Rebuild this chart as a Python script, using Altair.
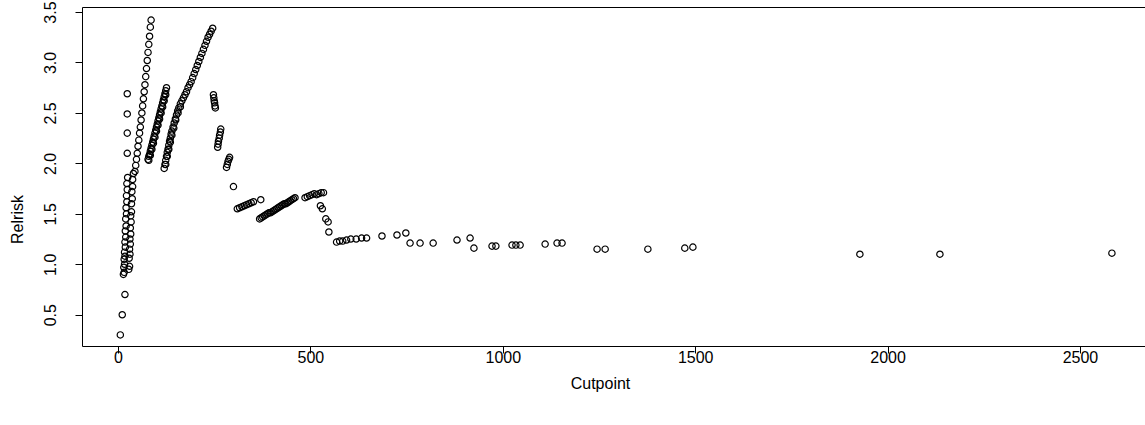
import altair as alt
import pandas as pd

# --- data (cutpoint, relative risk) ---
cut_a = [6, 11, 18]
rr_a = [0.30, 0.50, 0.70]

cut_b = [14, 16, 15, 17, 28, 30, 16, 18, 29, 31, 17, 19, 30, 32, 18, 20, 31, 33, 19, 21,
         32, 34, 20, 22, 33, 35, 21, 23, 35, 37, 22, 24, 36, 38, 23, 25, 38, 40,
         24, 24, 24, 24]
rr_b = [0.90, 0.92, 0.97, 1.00, 0.95, 0.98, 1.05, 1.08, 1.06, 1.10, 1.12, 1.17, 1.15, 1.20,
        1.22, 1.27, 1.25, 1.30, 1.33, 1.38, 1.36, 1.42, 1.45, 1.50, 1.48, 1.52, 1.56, 1.62,
        1.60, 1.65, 1.68, 1.74, 1.72, 1.77, 1.80, 1.86, 1.84, 1.90,
        2.10, 2.30, 2.49, 2.69]

cut_c = [44, 46, 48, 50, 52, 54, 56, 58, 60, 62, 64, 66, 68, 70, 72, 74, 76, 78, 80, 82, 84, 86]
rr_c = [1.92, 1.98, 2.04, 2.10, 2.17, 2.23, 2.30, 2.36, 2.43, 2.50, 2.57, 2.64, 2.71, 2.78,
        2.86, 2.94, 3.02, 3.10, 3.18, 3.26, 3.35, 3.42]

cut_d = [78, 80, 82, 84, 86, 88, 90, 92, 94, 96, 98, 100, 102, 104, 106, 108, 110, 112,
         114, 116, 118, 120, 122, 124, 126,
         80, 84, 88, 92, 96, 100, 104, 108, 112, 116, 120, 124]
rr_d = [2.04, 2.07, 2.09, 2.12, 2.15, 2.18, 2.21, 2.24, 2.27, 2.30, 2.33, 2.36, 2.39, 2.42,
        2.45, 2.48, 2.51, 2.54, 2.57, 2.60, 2.63, 2.66, 2.69, 2.72, 2.75,
        2.03, 2.08, 2.14, 2.20, 2.26, 2.32, 2.38, 2.44, 2.50, 2.56, 2.62, 2.68]

cut_e = [120, 122, 124, 126, 128, 130, 132, 134, 136, 138, 140, 143, 146, 149, 152, 155,
         158, 162, 166, 170, 174, 178, 182, 186, 190, 194, 198, 202, 206, 210, 214, 218,
         222, 226, 230, 234, 238, 242, 246,
         124, 128, 132, 136, 140, 145, 150, 156, 162]
rr_e = [1.95, 1.99, 2.03, 2.07, 2.11, 2.14, 2.18, 2.22, 2.25, 2.29, 2.32, 2.36, 2.40, 2.44,
        2.48, 2.52, 2.55, 2.59, 2.62, 2.65, 2.68, 2.71, 2.75, 2.78, 2.81, 2.85, 2.89, 2.93,
        2.97, 3.01, 3.05, 3.09, 3.13, 3.17, 3.21, 3.25, 3.28, 3.31, 3.34,
        1.99, 2.07, 2.14, 2.21, 2.28, 2.35, 2.43, 2.50, 2.56]

cut_f = [248, 249, 250, 251, 252, 253,
         259, 260, 261, 263, 264, 266, 267,
         282, 284, 286, 288, 290,
         300,
         310, 316, 322, 328, 334, 340, 346, 352,
         371]
rr_f = [2.68, 2.65, 2.62, 2.60, 2.57, 2.55,
        2.16, 2.19, 2.22, 2.25, 2.28, 2.31, 2.34,
        1.96, 1.99, 2.02, 2.04, 2.06,
        1.77,
        1.55, 1.56, 1.57, 1.58, 1.59, 1.60, 1.61, 1.62,
        1.64]

cut_g = [368, 372, 376, 380, 384, 388, 392, 396, 400, 404, 408, 412, 416, 420, 424, 428,
         432, 436, 440, 444, 448, 452, 456, 460]
rr_g = [1.45, 1.46, 1.47, 1.48, 1.49, 1.50, 1.51, 1.51, 1.52, 1.53, 1.54, 1.55, 1.56, 1.57,
        1.58, 1.59, 1.60, 1.60, 1.61, 1.62, 1.63, 1.64, 1.65, 1.66]

cut_h = [486, 492, 498, 504, 510, 516, 522, 528, 534,
         526, 531, 540, 546, 548]
rr_h = [1.66, 1.67, 1.68, 1.69, 1.70, 1.69, 1.70, 1.71, 1.71,
        1.58, 1.55, 1.45, 1.42, 1.32]

cut_i = [568, 576, 584, 594, 605, 619, 633, 646,
         686, 725, 748, 759, 785, 819, 881, 915, 925,
         972, 982, 1024, 1034, 1045, 1110, 1141, 1154,
         1245, 1266, 1377, 1473, 1494, 1928, 2136, 2583]
rr_i = [1.22, 1.23, 1.23, 1.24, 1.25, 1.25, 1.26, 1.26,
        1.28, 1.29, 1.31, 1.21, 1.21, 1.21, 1.24, 1.26, 1.16,
        1.18, 1.18, 1.19, 1.19, 1.19, 1.20, 1.21, 1.21,
        1.15, 1.15, 1.15, 1.16, 1.17, 1.10, 1.10, 1.11]

x_ticks = [0, 500, 1000, 1500, 2000, 2500]
y_ticks = [0.5, 1.0, 1.5, 2.0, 2.5, 3.0, 3.5]

cuts = cut_a + cut_b + cut_c + cut_d + cut_e + cut_f + cut_g + cut_h + cut_i
rrs = rr_a + rr_b + rr_c + rr_d + rr_e + rr_f + rr_g + rr_h + rr_i
df = pd.DataFrame({"Cutpoint": cuts, "Relrisk": rrs})

FONT = "Liberation Sans"

chart = alt.Chart(df).mark_point(
    shape="circle", filled=False, color="black", size=40, strokeWidth=1.2, opacity=1
).encode(
    x=alt.X("Cutpoint:Q",
            scale=alt.Scale(domain=[-93.6, 2669], nice=False, zero=False),
            axis=alt.Axis(values=x_ticks, format="d", title="Cutpoint",
                          labelBaseline="top", labelPadding=-4,
                          titleX=518, titleY=37, titleBaseline="middle",
                          titleAlign="center")),
    y=alt.Y("Relrisk:Q",
            scale=alt.Scale(domain=[0.19, 3.55], nice=False, zero=False),
            axis=alt.Axis(values=y_ticks, format=".1f", title="Relrisk",
                          labelAngle=270, labelAlign="center", labelBaseline="bottom",
                          labelPadding=17,
                          titleAngle=270, titleX=-65, titleY=212,
                          titleAlign="center", titleBaseline="middle")),
).properties(
    width=1063, height=339,
    autosize=alt.AutoSizeParams(type="none"),
    padding={"left": 82, "top": 7, "right": 0, "bottom": 79},
    background="white",
).configure_view(
    stroke="black", strokeWidth=1, fill="white"
).configure_axis(
    domain=False, grid=False, ticks=True, tickColor="black", tickSize=7, tickWidth=1,
    labelColor="black", labelFont=FONT, labelFontSize=16,
    titleColor="black", titleFont=FONT, titleFontSize=16, titleFontWeight="normal",
    labelOverlap=False, labelFlush=False
)

chart.save("out.html", embed_options={"renderer": "svg", "actions": False})
